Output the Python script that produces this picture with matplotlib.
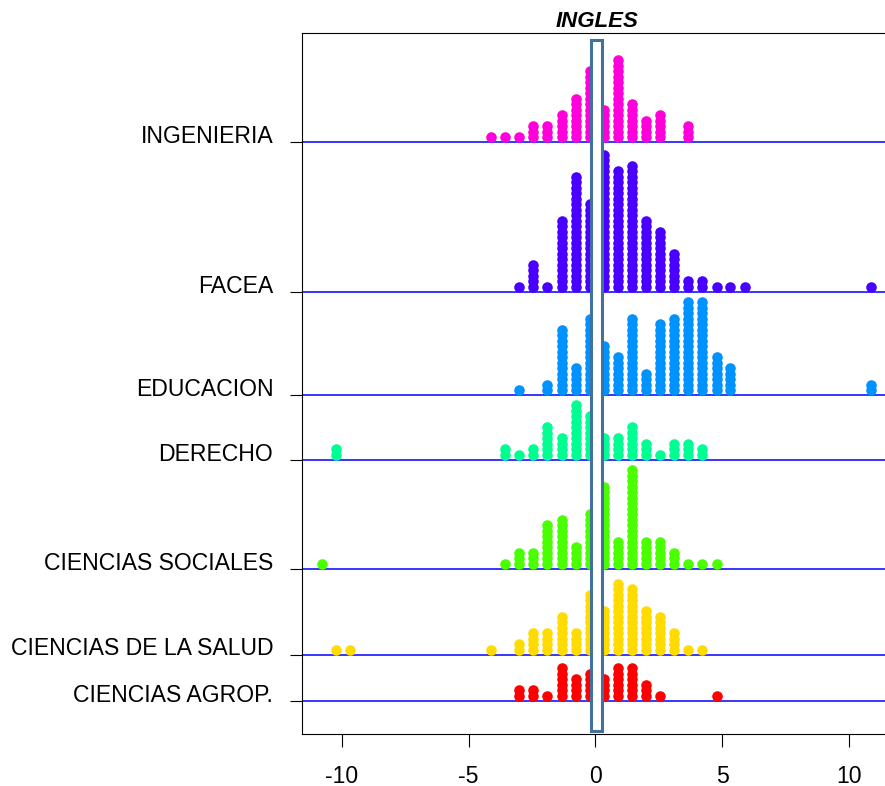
import numpy as np
import matplotlib
matplotlib.use("Agg")
import matplotlib.pyplot as plt
import matplotlib.transforms as mtransforms
from matplotlib.patches import Rectangle

plt.rcParams["font.family"] = ["Liberation Sans", "DejaVu Sans"]

# groups from bottom to top, R rainbow(7) colours
groups = ["CIENCIAS AGROP.", "CIENCIAS DE LA SALUD", "CIENCIAS SOCIALES",
          "DERECHO", "EDUCACION", "FACEA", "INGENIERIA"]
colors = ["#FF0000", "#FFDB00", "#49FF00", "#00FF92", "#0092FF", "#4900FF", "#FF00DB"]
group_pos = [6.0, 14.4, 30.0, 49.8, 61.6, 80.4, 107.6]

# distinct values and how many students share each (stacked dots)
agrop_vals = [-3.00, -2.44, -1.89, -1.33, -0.78, -0.22, 0.33, 0.89, 1.44, 2.00, 2.56, 4.78]
agrop_counts = [2, 2, 1, 6, 4, 5, 4, 6, 6, 3, 1, 1]

salud_vals = [-10.22, -9.67, -4.11, -3.00, -2.44, -1.89, -1.33, -0.78, -0.22, 0.33,
              0.89, 1.44, 2.00, 2.56, 3.11, 3.67, 4.22]
salud_counts = [1, 1, 1, 2, 4, 4, 7, 4, 11, 8, 13, 12, 8, 7, 4, 1, 1]

soc_vals = [-10.78, -3.56, -3.00, -2.44, -1.89, -1.33, -0.78, -0.22, 0.33, 0.89,
            1.44, 2.00, 2.56, 3.11, 3.67, 4.22, 4.78]
soc_counts = [1, 1, 3, 3, 8, 9, 4, 10, 15, 5, 18, 5, 5, 3, 1, 1, 1]

der_vals = [-10.22, -3.56, -3.00, -2.44, -1.89, -1.33, -0.78, -0.22, 0.33, 0.89,
            1.44, 2.00, 2.56, 3.11, 3.67, 4.22]
der_counts = [2, 2, 1, 2, 6, 4, 10, 8, 4, 4, 6, 3, 1, 3, 3, 2]

edu_vals = [-3.00, -1.89, -1.33, -0.78, -0.22, 0.33, 0.89, 1.44, 2.00, 2.56,
            3.11, 3.67, 4.22, 4.78, 5.33, 10.89]
edu_counts = [1, 2, 12, 5, 14, 9, 7, 14, 4, 13, 14, 17, 17, 7, 5, 2]

facea_vals = [-3.00, -2.44, -1.89, -1.33, -0.78, -0.22, 0.33, 0.89, 1.44, 2.00,
              2.56, 3.11, 3.67, 4.22, 4.78, 5.33, 5.89, 10.89]
facea_counts = [1, 5, 1, 13, 21, 16, 25, 22, 23, 13, 11, 7, 2, 2, 1, 1, 1, 1]

ing_vals = [-4.11, -3.56, -3.00, -2.44, -1.89, -1.33, -0.78, -0.22, 0.33, 0.89,
            1.44, 2.00, 2.56, 3.67]
ing_counts = [1, 1, 1, 3, 3, 5, 8, 13, 6, 15, 7, 4, 5, 3]

all_vals = [agrop_vals, salud_vals, soc_vals, der_vals, edu_vals, facea_vals, ing_vals]
all_counts = [agrop_counts, salud_counts, soc_counts, der_counts, edu_counts,
              facea_counts, ing_counts]

fig = plt.figure(figsize=(8.85, 7.86), dpi=100)
ax = fig.add_axes([0.3412, 0.0662, 0.6678, 0.8919])

for pos, col, vals, counts in zip(group_pos, colors, all_vals, all_counts):
    ax.axhline(pos, color="#0000FF", lw=1.1, zorder=1)
    for v, n in zip(vals, counts):
        ys = pos + 0.95 + np.arange(n)
        ax.plot(np.full(n, v), ys, "o", color=col, markersize=7.6,
                markeredgewidth=0, zorder=2)

ax.add_patch(Rectangle((-0.154, 0.55), 0.434, 125.7, facecolor="white",
                       edgecolor="#41719C", lw=2.2, zorder=5))

ax.set_xlim(-11.57, 11.74)
ax.set_ylim(0, 127.5)
ax.set_xticks([-10, -5, 0, 5, 10])
ax.set_xticklabels(["-10", "-5", "0", "5", "10"])
ax.set_yticks(group_pos)
ax.set_yticklabels(groups)
ax.tick_params(axis="y", length=8.6, pad=12, labelsize=16.6)
ax.tick_params(axis="x", length=9, pad=13, labelsize=16.6)
ax.set_title("INGLES", fontsize=16, fontweight="bold", style="italic", pad=4)

# labels sit a little above their tick, as in the original
shift = mtransforms.ScaledTranslation(0, 6 / 72, fig.dpi_scale_trans)
for lab in ax.get_yticklabels():
    lab.set_transform(lab.get_transform() + shift)

fig.savefig("out.png", dpi=100)
